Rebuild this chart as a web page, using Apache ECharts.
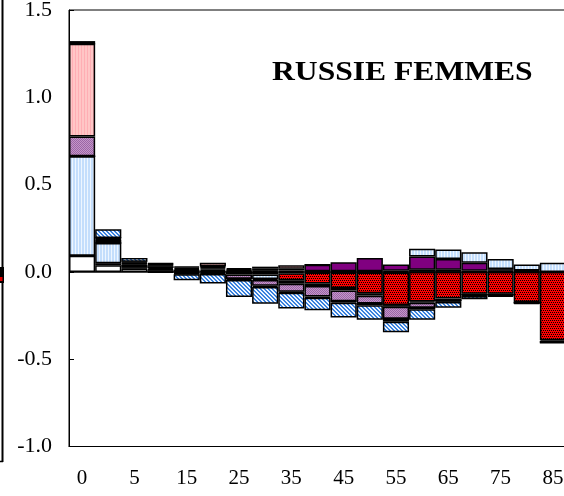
<!DOCTYPE html>
<html><head><meta charset="utf-8">
<script src="https://cdn.jsdelivr.net/npm/echarts@6/dist/echarts.min.js"></script>
<style>html,body{margin:0;padding:0;background:#fff}#c{width:564px;height:496px}</style>
</head><body><div id="c"></div>
<script>
// categories (age groups)
const ages = ['0','1','5','10','15','20','25','30','35','40','45','50','55','60','65','70','75','80','85'];
// series values (contributions, years), stacked in this order
const sWhite   = [0.093,0.038,0.020,0.010,0.006,0.005,0.004,0.006,0.008,0.004,0.004,0.004,0.006,0.013,0.013,0.006,0.006,0.004,0];
const sPurple  = [0,0.012,0.004,0.004,0.003,0.007,0.005,-0.015,0.010,0.037,0.051,0.076,0.036,0.075,0.061,0.046,0.010,0.004,0];
const sLtBlue  = [0.570,0.115,0.012,0.008,0.008,0.008,0.006,-0.025,-0.008,-0.004,-0.004,-0.004,-0.004,0.045,0.054,0.060,0.058,0.035,0.053];
const sRed     = [0,0,0,-0.004,-0.006,-0.008,-0.015,-0.006,-0.040,-0.062,-0.088,-0.118,-0.186,-0.169,-0.153,-0.125,-0.125,-0.172,-0.392];
const sDarkA   = [0,0.020,0.008,0.010,0.008,0.008,0.007,0.012,-0.020,-0.015,-0.014,-0.014,-0.010,-0.007,-0.010,-0.006,-0.006,-0.004,-0.008];
const sLtPurp  = [0.113,0.004,0.004,0.004,-0.004,0.004,-0.024,-0.034,-0.045,-0.060,-0.062,-0.045,-0.068,-0.029,0,0,0,0,0];
const sPink    = [0.531,0.005,0.006,0.006,0.007,0.021,0,0.012,0.020,0.001,0,0,0,0,0,0,0,0,0];
const sDarkB   = [0,0,0.004,0.004,-0.004,-0.004,-0.008,-0.006,-0.006,-0.007,-0.008,-0.010,-0.018,-0.009,-0.009,-0.007,-0.006,-0.003,-0.006];
const sBlueDg  = [0.015,0.050,0.022,0.004,-0.034,-0.054,-0.097,-0.096,-0.090,-0.072,-0.085,-0.083,-0.059,-0.060,-0.033,-0.019,-0.005,-0.005,0];
// y tick labels
const yTicks = [-1.0,-0.5,0.0,0.5,1.0,1.5];

function pat(w,h,draw){const c=document.createElement('canvas');c.width=w;c.height=h;const g=c.getContext('2d');draw(g);return {image:c,repeat:'repeat'};}
const fills = {
  white: '#ffffff',
  purple: '#800080',
  ltblue: pat(3,1,g=>{g.fillStyle='#c4defc';g.fillRect(0,0,3,1);g.fillStyle='#eef6ff';g.fillRect(0,0,1,1);}),
  red: pat(4,4,g=>{g.fillStyle='#ff0000';g.fillRect(0,0,4,4);g.fillStyle='#000';g.fillRect(0,0,1,1);g.fillRect(2,0,1,1);g.fillRect(1,2,1,1);g.fillRect(3,2,1,1);}),
  dark: '#000000',
  ltpurp: pat(2,2,g=>{g.fillStyle='#c496c8';g.fillRect(0,0,2,2);g.fillStyle='#9a66a6';g.fillRect(0,0,1,1);g.fillRect(1,1,1,1);}),
  pink: pat(3,1,g=>{g.fillStyle='#ffc6c6';g.fillRect(0,0,3,1);g.fillStyle='#ffaeb4';g.fillRect(0,0,1,1);}),
  bluedg: pat(4,4,g=>{g.fillStyle='#eef5ff';g.fillRect(0,0,4,4);g.fillStyle='#3a82de';for(let i=0;i<4;i++){g.fillRect((i+3)%4,i,1,1);g.fillRect((i+4)%4,i,1,1);}})
};
const defs = [
  ['Série 1', sWhite, fills.white],
  ['Série 2', sPurple, fills.purple],
  ['Série 3', sLtBlue, fills.ltblue],
  ['Série 4', sRed, fills.red],
  ['Série 5', sDarkA, fills.dark],
  ['Série 6', sLtPurp, fills.ltpurp],
  ['Série 7', sPink, fills.pink],
  ['Série 8', sDarkB, fills.dark],
  ['Série 9', sBlueDg, fills.bluedg]
];
const series = defs.map((d,i)=>({
  name:d[0], type:'bar', stack:'tot', data:d[1], barWidth:'100%', barCategoryGap:'0%',
  itemStyle:{color:d[2], borderColor:'#000', borderWidth:1.5},
  emphasis:{disabled:true}, animation:false
}));
series[0].markLine = {silent:true, symbol:['none','none'], label:{show:false}, animation:false,
  lineStyle:{color:'#000', width:1.5, type:'solid'}, data:[{yAxis:0}]};

const chart = echarts.init(document.getElementById('c'), null, {renderer:'canvas'});
chart.setOption({
  animation:false,
  backgroundColor:'#ffffff',
  grid:{left:69, top:10, right:-2, bottom:49.5, show:true, borderColor:'#000', borderWidth:1, containLabel:false, outerBoundsMode:'none'},
  xAxis:{type:'category', data:ages, axisLine:{onZero:false, lineStyle:{color:'#000', width:1}}, axisTick:{show:false},
    axisLabel:{interval:1, fontSize:21, fontFamily:'"Liberation Serif", serif', color:'#000', margin:21}},
  yAxis:{type:'value', min:yTicks[0], max:yTicks[yTicks.length-1], interval:0.5,
    axisLine:{show:true, lineStyle:{color:'#000', width:1}},
    axisTick:{show:true, inside:true, length:5, lineStyle:{color:'#000'}},
    splitLine:{show:false},
    axisLabel:{formatter:v=>v.toFixed(1), fontSize:22, fontFamily:'"Liberation Serif", serif', color:'#000', margin:17, align:'right'}},
  graphic:[
    {type:'text', x:272, y:60, scaleX:1.17, style:{text:'RUSSIE FEMMES', font:'bold 27px "Liberation Serif"', fill:'#000'}},
    {type:'line', shape:{x1:2.5, y1:0, x2:2.5, y2:462}, style:{stroke:'#000', lineWidth:2}},
    {type:'line', shape:{x1:0, y1:461.5, x2:3, y2:461.5}, style:{stroke:'#000', lineWidth:1.5}},
    {type:'rect', shape:{x:0, y:267, width:4, height:16}, style:{fill:'#000'}},
    {type:'rect', shape:{x:0, y:277, width:2.5, height:4}, style:{fill:'#e00000'}}
  ],
  series:series
});
</script></body></html>
